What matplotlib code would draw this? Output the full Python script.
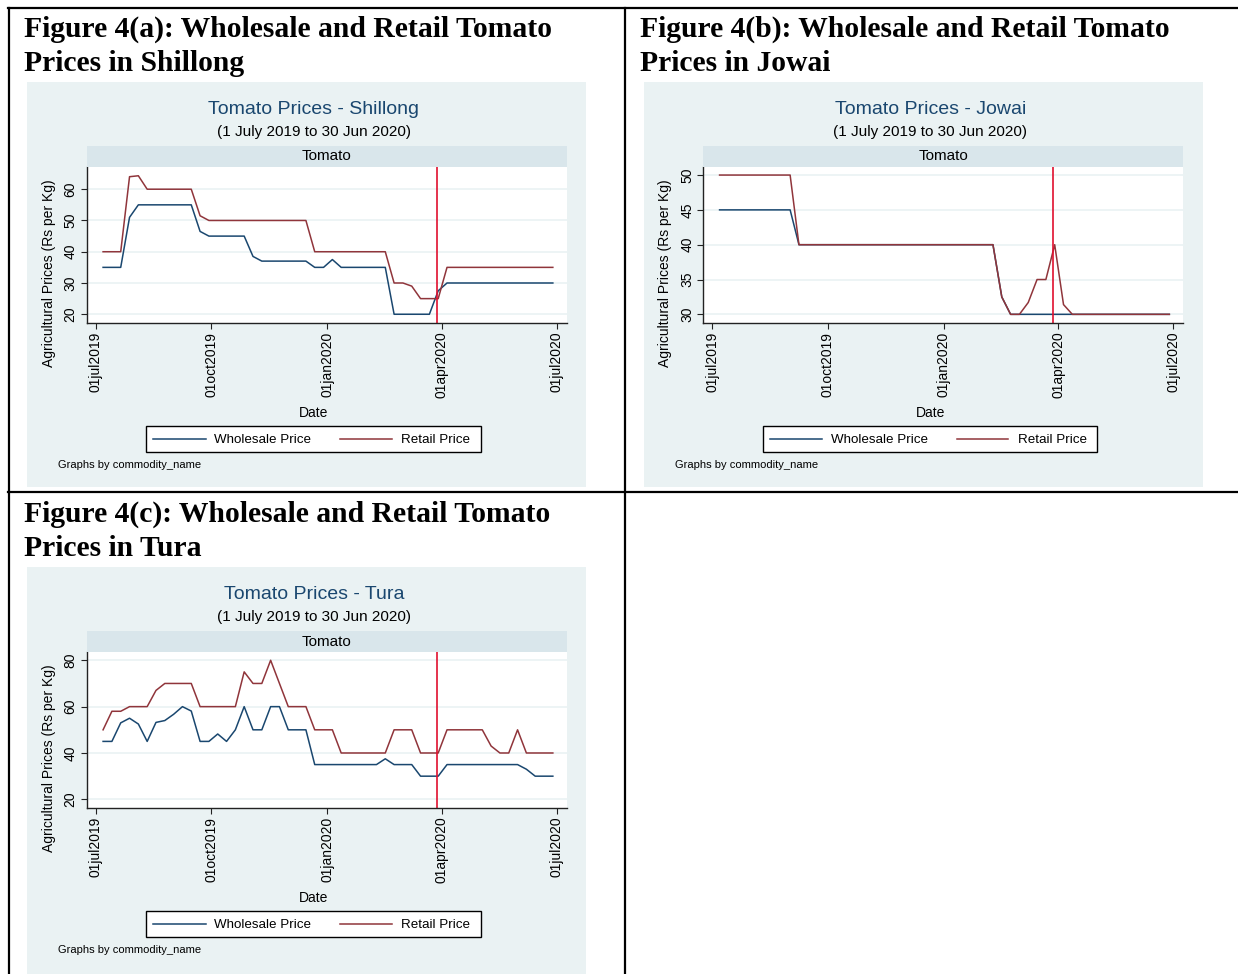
import pandas as pd
import matplotlib
matplotlib.use('Agg')
import matplotlib.pyplot as plt
from matplotlib.patches import Rectangle
from matplotlib.lines import Line2D

plt.rcParams['font.family'] = ['Liberation Sans', 'DejaVu Sans']

W, H = 1238, 974

# weekly observations, 1 July 2019 to 30 June 2020
weeks = pd.date_range('2019-07-07', periods=52, freq='7D')
lockdown = pd.Timestamp('2020-03-28')

shillong_wholesale = [35, 35, 35, 51, 55, 55, 55, 55, 55, 55, 55, 46.5, 45, 45, 45, 45, 45,
                      38.5, 37, 37, 37, 37, 37, 37, 35, 35, 37.5, 35, 35, 35, 35, 35, 35,
                      20, 20, 20, 20, 20, 27.5, 30, 30, 30, 30, 30, 30, 30, 30, 30, 30, 30, 30, 30]
shillong_retail = [40, 40, 40, 64, 64.3, 60, 60, 60, 60, 60, 60, 51.5, 50, 50, 50, 50, 50,
                   50, 50, 50, 50, 50, 50, 50, 40, 40, 40, 40, 40, 40, 40, 40, 40,
                   30, 30, 29, 25, 25, 25, 35, 35, 35, 35, 35, 35, 35, 35, 35, 35, 35, 35, 35]

jowai_wholesale = [45, 45, 45, 45, 45, 45, 45, 45, 45, 40, 40, 40, 40, 40, 40, 40, 40,
                   40, 40, 40, 40, 40, 40, 40, 40, 40, 40, 40, 40, 40, 40, 40, 32.5,
                   30, 30, 30, 30, 30, 30, 30, 30, 30, 30, 30, 30, 30, 30, 30, 30, 30, 30, 30]
jowai_retail = [50, 50, 50, 50, 50, 50, 50, 50, 50, 40, 40, 40, 40, 40, 40, 40, 40,
                40, 40, 40, 40, 40, 40, 40, 40, 40, 40, 40, 40, 40, 40, 40, 32.5,
                30, 30, 31.7, 35, 35, 40, 31.4, 30, 30, 30, 30, 30, 30, 30, 30, 30, 30, 30, 30]

tura_wholesale = [45, 45, 53, 55, 52.5, 45, 53.2, 54, 56.7, 60, 58.1, 45, 45, 48.2, 45, 50, 60,
                  50, 50, 60, 60, 50, 50, 50, 35, 35, 35, 35, 35, 35, 35, 35, 37.5,
                  35, 35, 35, 30, 30, 30, 35, 35, 35, 35, 35, 35, 35, 35, 35, 33, 30, 30, 30]
tura_retail = [50, 58, 58, 60, 60, 60, 67, 70, 70, 70, 70, 60, 60, 60, 60, 60, 75,
               70, 70, 80, 70, 60, 60, 60, 50, 50, 50, 40, 40, 40, 40, 40, 40,
               50, 50, 50, 40, 40, 40, 50, 50, 50, 50, 50, 43, 40, 40, 50, 40, 40, 40, 40]

tick_dates = ['2019-07-01', '2019-10-01', '2020-01-01', '2020-04-01', '2020-07-01']
tick_labels = ['01jul2019', '01oct2019', '01jan2020', '01apr2020', '01jul2020']

NAVY = '#1a476f'
MAROON = '#90353b'
BG = '#eaf2f3'
STRIP = '#d9e6eb'
VLINE = '#e0102f'

fig = plt.figure(figsize=(W / 100, H / 100), dpi=100)


def fx(x):
    return x / W


def fy(y):
    return 1 - y / H


def box(x0, y0, x1, y1, **kw):
    fig.add_artist(Rectangle((fx(x0), fy(y1)), (x1 - x0) / W, (y1 - y0) / H,
                             transform=fig.transFigure, **kw))


def seg(x0, y0, x1, y1, **kw):
    fig.add_artist(Line2D([fx(x0), fx(x1)], [fy(y0), fy(y1)],
                          transform=fig.transFigure, **kw))


def text(x, y, s, **kw):
    fig.text(fx(x), fy(y), s, **kw)


def panel(dx, dy, city, wholesale, retail, yticks, ylim, bg_bottom=487):
    box(27 + dx, 82 + dy, 586 + dx, bg_bottom + dy, facecolor=BG, edgecolor='none', zorder=0)
    text(314 + dx, 114 + dy, 'Tomato Prices - ' + city, color=NAVY, fontsize=14,
         ha='center', va='baseline')
    text(314 + dx, 136 + dy, '(1 July 2019 to 30 Jun 2020)', fontsize=11,
         ha='center', va='baseline')
    box(86.7 + dx, 146 + dy, 566.7 + dx, 166.7 + dy, facecolor=STRIP, edgecolor='none')
    text(326.7 + dx, 156.5 + dy, 'Tomato', fontsize=11, ha='center', va='center')

    ax = fig.add_axes([fx(86.7 + dx), fy(322.7 + dy), 480 / W, 156 / H])
    ax.plot(weeks, wholesale, color=NAVY, lw=1.1)
    ax.plot(weeks, retail, color=MAROON, lw=1.1)
    ax.axvline(lockdown, color=VLINE, lw=1.2)
    ax.set_xlim(pd.Timestamp('2019-06-24'), pd.Timestamp('2020-07-09'))
    ax.set_ylim(*ylim)
    ax.set_yticks(yticks)
    ax.set_yticklabels([str(v) for v in yticks], rotation=90, va='center')
    ax.set_xticks(pd.to_datetime(tick_dates))
    ax.set_xticklabels(tick_labels, rotation=90)
    ax.grid(axis='y', color=BG, lw=1.2)
    ax.set_axisbelow(True)
    for side in ['top', 'right']:
        ax.spines[side].set_visible(False)
    for side in ['left', 'bottom']:
        ax.spines[side].set_color('#222222')
        ax.spines[side].set_linewidth(1.0)
    ax.tick_params(direction='out', length=4.5, width=0.8, color='#222222',
                   labelsize=10, pad=2)

    text(48.7 + dx, 273 + dy, 'Agricultural Prices (Rs per Kg)', rotation=90,
         fontsize=10, ha='center', va='center')
    text(314 + dx, 417 + dy, 'Date', fontsize=10, ha='center', va='baseline')

    # legend
    box(146.4 + dx, 425.7 + dy, 480.9 + dx, 452.3 + dy, facecolor='white',
        edgecolor='black', lw=1.0)
    seg(153 + dx, 439 + dy, 205.8 + dx, 439 + dy, color=NAVY, lw=1.1)
    text(214.3 + dx, 440 + dy, 'Wholesale Price', fontsize=9.6, va='center')
    seg(340 + dx, 439 + dy, 391.6 + dx, 439 + dy, color=MAROON, lw=1.1)
    text(401 + dx, 440 + dy, 'Retail Price', fontsize=9.6, va='center')

    text(58.3 + dx, 468 + dy, 'Graphs by commodity_name', fontsize=8, va='baseline')


panel(0, 0, 'Shillong', shillong_wholesale, shillong_retail,
      [20, 30, 40, 50, 60], (17.3, 67.2))
panel(616.5, 0, 'Jowai', jowai_wholesale, jowai_retail,
      [30, 35, 40, 45, 50], (28.8, 51.2))
panel(0, 485, 'Tura', tura_wholesale, tura_retail,
      [20, 40, 60, 80], (16.4, 83.7), bg_bottom=600)

# headings and table rules
head = dict(family=['Liberation Serif', 'DejaVu Serif'], weight='bold', fontsize=21.3,
            va='baseline')
text(24, 37, 'Figure 4(a): Wholesale and Retail Tomato', **head)
text(24, 70.5, 'Prices in Shillong', **head)
text(640, 37, 'Figure 4(b): Wholesale and Retail Tomato', **head)
text(640, 70.5, 'Prices in Jowai', **head)
text(24, 522, 'Figure 4(c): Wholesale and Retail Tomato', **head)
text(24, 555.5, 'Prices in Tura', **head)

rule = dict(color='black', lw=1.6)
seg(8, 8, 1238, 8, **rule)
seg(9, 8, 9, 974, **rule)
seg(625, 8, 625, 974, **rule)
seg(8, 492, 1238, 492, **rule)

fig.savefig('out.png', dpi=100)
